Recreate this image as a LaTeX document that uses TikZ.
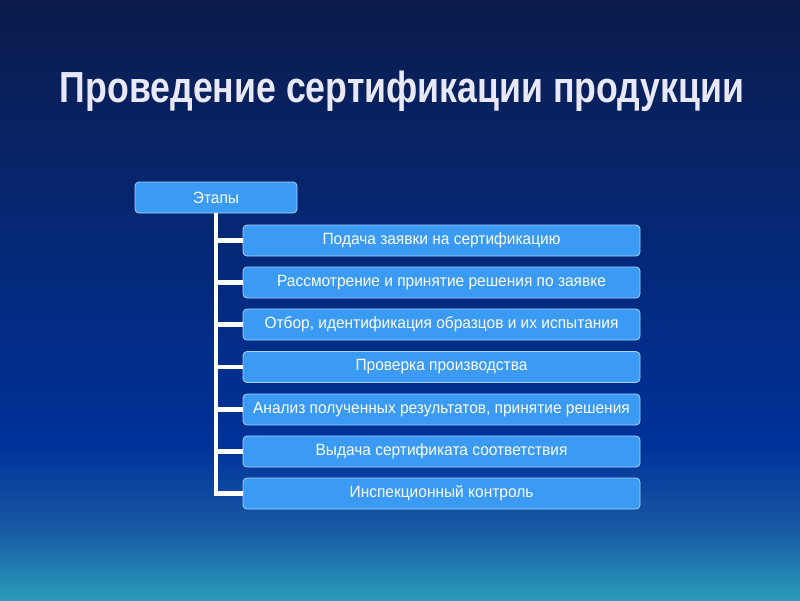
\documentclass[tikz,border=0pt]{standalone}
\usepackage{fontspec}
\setmainfont{Liberation Sans}
\newfontfamily\titlefont[FakeStretch=0.82]{Liberation Sans}
\newfontfamily\boxfont[FakeStretch=0.95]{Liberation Sans}
\definecolor{bgtop}{HTML}{0B1C4C}
\definecolor{bgmid}{HTML}{00329A}
\definecolor{bglow}{HTML}{1858A4}
\definecolor{bgbot}{HTML}{2A9CBA}
\definecolor{boxfill}{HTML}{3A9AF4}
\definecolor{boxline}{HTML}{A8D4FF}
\definecolor{titlecol}{HTML}{E8E8F8}
\tikzset{
  stepbox/.style={draw=boxline, line width=0.8pt, fill=boxfill, rounded corners=4pt,
    minimum width=397pt, minimum height=31pt, inner sep=0pt, text=white,
    font=\boxfont\fontsize{16.3}{18}\selectfont},
  headbox/.style={stepbox, minimum width=162pt},
  conn/.style={draw=white, line width=4.5pt, line join=miter},
  titletext/.style={font=\titlefont\bfseries\fontsize{43.5}{50}\selectfont, inner sep=0pt}
}
\begin{document}
\begin{tikzpicture}[x=1pt,y=-1pt]
\useasboundingbox (0,0) rectangle (800,600);
\shade[top color=bgtop, bottom color=bgmid] (0,0) rectangle (800,445);
\shade[top color=bgmid, bottom color=bglow] (0,444.5) rectangle (800,528);
\shade[top color=bglow, bottom color=bgbot] (0,527.5) rectangle (800,600);
% title
\node[titletext, text=titlecol] (title) at (402,91) {Проведение сертификации продукции};
% boxes
\node[headbox] (e) at (216,197.5) {Этапы};
\node[stepbox] (s1) at (441.5,240.5) {Подача заявки на сертификацию};
\node[stepbox] (s2) at (441.5,282.5) {Рассмотрение и принятие решения по заявке};
\node[stepbox] (s3) at (441.5,324.5) {Отбор, идентификация образцов и их испытания};
\node[stepbox] (s4) at (441.5,367) {Проверка производства};
\node[stepbox] (s5) at (441.5,409.5) {Анализ полученных результатов, принятие решения};
\node[stepbox] (s6) at (441.5,451.5) {Выдача сертификата соответствия};
\node[stepbox] (s7) at (441.5,493.5) {Инспекционный контроль};
% connectors
\draw[conn] (e.south) |- (s7.west);
\foreach \s in {s1,s2,s3,s4,s5,s6}{
  \draw[conn] (e.south |- \s.west) -- (\s.west);
}
\end{tikzpicture}
\end{document}
